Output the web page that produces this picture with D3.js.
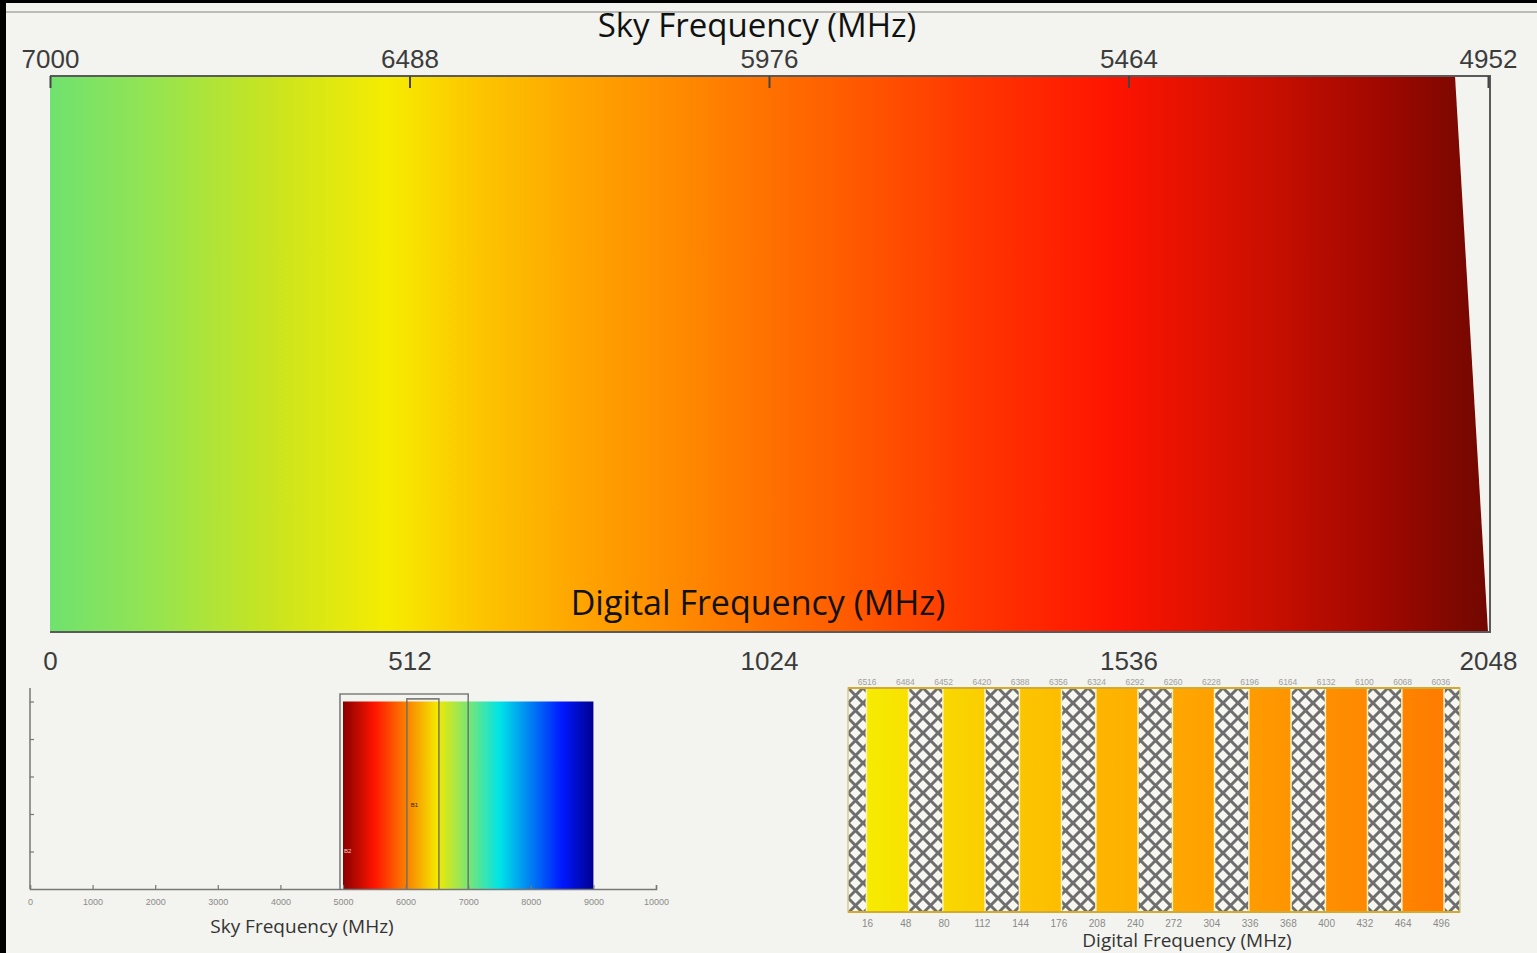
<!DOCTYPE html>
<html><head><meta charset="utf-8">
<script src="https://cdn.jsdelivr.net/npm/d3@7"></script>
<style>
html,body{margin:0;padding:0;background:#f3f4ef;overflow:hidden}
svg{display:block}
</style></head><body>
<svg id="chart" width="1537" height="953"></svg>
<script>
// Sky frequency ticks along the top of the main panel (MHz, descending)
const skyTicks = [7000, 6488, 5976, 5464, 4952];
// Digital frequency ticks along the bottom of the main panel (MHz)
const digitalTicks = [0, 512, 1024, 1536, 2048];
// Colour ramp along the digital band (digital MHz -> colour)
const rampPositions = [0, 142, 313, 483, 598, 755, 926, 1139, 1324, 1511, 1709, 1894, 2015, 2048];
const rampColors = ["#6fe26f", "#94e452", "#c8e420", "#f6ec00", "#fcc800", "#ffa400", "#ff8400",
                    "#ff5a00", "#ff3400", "#ff1400", "#d01000", "#a00800", "#7a0800", "#720800"];
// Roll-off edge of the passband at the top and bottom of the panel (digital MHz)
const rollOffTop = 2001;
const rollOffBottom = 2048;

// Overview of the full sky band
const overviewTicks = [0, 1000, 2000, 3000, 4000, 5000, 6000, 7000, 8000, 9000, 10000];
const overviewLevels = [1, 2, 3, 4, 5];
const overviewBand = [5000, 9000];
const overviewBandLevel = 5;
const overviewWindows = [[4952, 7000], [6020, 6532]];
const overviewWindowLevels = [5.2, 5.07];
const overviewWindowNames = ["B2", "B1"];
// jet ramp for the overview band (sky MHz -> colour)
const jetPositions = [5000, 5500, 6500, 7500, 8500, 9000];
const jetColors = ["#880000", "#ff1400", "#f4e800", "#00e4e8", "#0018ff", "#000090"];

// Zoomed sub-band panel
const subDigitalTicks = [16, 48, 80, 112, 144, 176, 208, 240, 272, 304, 336, 368, 400, 432, 464, 496];
const subSkyTicks = [6516, 6484, 6452, 6420, 6388, 6356, 6324, 6292, 6260, 6228, 6196, 6164, 6132, 6100, 6068, 6036];
const subChannels = [[16, 50], [80, 114], [144, 178], [208, 242], [272, 306], [336, 370], [400, 434], [464, 498]];
const subOffset = 468; // digital offset of the sub-band inside the main band

const svg = d3.select("#chart");
const defs = svg.append("defs");
const titleFont = "Open Sans, Noto Sans, sans-serif";
const tickFont = "Liberation Sans, Arial, sans-serif";

// ---------- frame decoration ----------
svg.append("rect").attr("x", 0).attr("y", 0).attr("width", 1537).attr("height", 3).attr("fill", "#000");
svg.append("rect").attr("x", 0).attr("y", 0).attr("width", 6).attr("height", 953).attr("fill", "#000");
svg.append("line").attr("x1", 6).attr("x2", 1537).attr("y1", 12).attr("y2", 12)
  .attr("stroke", "#a8a8a4").attr("stroke-width", 1.5);

// ---------- main panel ----------
const mainLeft = 50, mainRight = 1488, frameRight = 1490, mainTop = 76, mainBottom = 632;
const xDigital = d3.scaleLinear().domain([0, 2048]).range([mainLeft, mainRight]);
const xSky = d3.scaleLinear().domain([7000, 4952]).range([mainLeft, mainRight]);
const ramp = d3.scaleLinear().domain(rampPositions).range(rampColors).interpolate(d3.interpolateRgb);

const grad = defs.append("linearGradient").attr("id", "mainRamp")
  .attr("gradientUnits", "userSpaceOnUse")
  .attr("x1", xDigital(0)).attr("x2", xDigital(2048)).attr("y1", 0).attr("y2", 0);
grad.selectAll("stop").data(d3.range(0, 2049, 32)).join("stop")
  .attr("offset", d => d / 2048)
  .attr("stop-color", d => ramp(d));

const passband = [[0, "top"], [rollOffTop, "top"], [rollOffBottom, "bottom"], [0, "bottom"]];
svg.append("path")
  .attr("d", d3.line()(passband.map(([f, side]) => [xDigital(f), side === "top" ? mainTop : mainBottom])) + "Z")
  .attr("fill", "url(#mainRamp)");

// panel frame: top, right and bottom edges
svg.append("path")
  .attr("d", `M${mainLeft},${mainTop}H${frameRight}V${mainBottom}H${mainLeft}`)
  .attr("fill", "none").attr("stroke", "#5a5a5a").attr("stroke-width", 2);

// top axis (sky frequency)
const topAxis = d3.axisBottom(xSky).tickValues(skyTicks).tickSize(12).tickFormat(d3.format("d"));
const gTop = svg.append("g").attr("transform", `translate(0,${mainTop})`).call(topAxis);
gTop.select(".domain").remove();
gTop.selectAll(".tick line").attr("stroke", "#444").attr("stroke-width", 2);
gTop.selectAll(".tick text")
  .attr("y", -8).attr("dy", 0)
  .attr("font-family", tickFont).attr("font-size", 26).attr("fill", "#3c3c3c");

// bottom axis (digital frequency), labels only
const bottomAxis = d3.axisBottom(xDigital).tickValues(digitalTicks).tickSize(0).tickFormat(d3.format("d"));
const gBottom = svg.append("g").attr("transform", `translate(0,${mainBottom})`).call(bottomAxis);
gBottom.select(".domain").remove();
gBottom.selectAll(".tick text")
  .attr("y", 38).attr("dy", 0)
  .attr("font-family", tickFont).attr("font-size", 26).attr("fill", "#3c3c3c");

svg.append("text").attr("x", 757).attr("y", 37).attr("text-anchor", "middle")
  .attr("font-family", titleFont).attr("font-size", 33).attr("fill", "#111")
  .text("Sky Frequency (MHz)");
svg.append("text").attr("x", 758).attr("y", 615).attr("text-anchor", "middle")
  .attr("font-family", titleFont).attr("font-size", 34).attr("fill", "#111")
  .text("Digital Frequency (MHz)");

// ---------- overview panel ----------
const ovX = d3.scaleLinear().domain([0, 10000]).range([30, 656]);
const ovY = d3.scaleLinear().domain([0, 5.36]).range([889, 688]);
const jet = d3.scaleLinear().domain(jetPositions).range(jetColors).interpolate(d3.interpolateRgb);

const jetGrad = defs.append("linearGradient").attr("id", "jetRamp")
  .attr("gradientUnits", "userSpaceOnUse")
  .attr("x1", ovX(overviewBand[0])).attr("x2", ovX(overviewBand[1])).attr("y1", 0).attr("y2", 0);
jetGrad.selectAll("stop").data(d3.range(overviewBand[0], overviewBand[1] + 1, 100)).join("stop")
  .attr("offset", d => (d - overviewBand[0]) / (overviewBand[1] - overviewBand[0]))
  .attr("stop-color", d => jet(d));

svg.append("rect")
  .attr("x", ovX(overviewBand[0])).attr("y", ovY(overviewBandLevel))
  .attr("width", ovX(overviewBand[1]) - ovX(overviewBand[0]))
  .attr("height", ovY(0) - ovY(overviewBandLevel))
  .attr("fill", "url(#jetRamp)");

svg.selectAll(".ovWindow").data(overviewWindows).join("path").attr("class", "ovWindow")
  .attr("d", (d, i) => `M${ovX(d[0])},${ovY(0)}V${ovY(overviewWindowLevels[i])}H${ovX(d[1])}V${ovY(0)}`)
  .attr("fill", "none").attr("stroke", "#6a6a6a").attr("stroke-opacity", 0.85).attr("stroke-width", 1.6);

svg.selectAll(".ovName").data(overviewWindows).join("text").attr("class", "ovName")
  .attr("x", d => ovX(d[0]) + 4)
  .attr("y", (d, i) => i === 0 ? ovY(0.95) : ovY(2.2))
  .attr("font-family", tickFont).attr("font-size", 6)
  .attr("fill", (d, i) => i === 0 ? "#f3d0c0" : "#3a2000")
  .text((d, i) => overviewWindowNames[i]);

const ovXAxis = d3.axisTop(ovX).tickValues(overviewTicks).tickSize(4).tickFormat(d3.format("d"));
const gOvX = svg.append("g").attr("transform", `translate(0,${ovY(0)})`).call(ovXAxis);
gOvX.select(".domain").attr("stroke", "#777").attr("stroke-width", 1.5);
gOvX.selectAll(".tick line").attr("stroke", "#777").attr("stroke-width", 1.2);
gOvX.selectAll(".tick text").attr("y", 16).attr("dy", 0)
  .attr("font-family", tickFont).attr("font-size", 9).attr("fill", "#8a8a8a");

const ovYAxis = d3.axisRight(ovY).tickValues(overviewLevels).tickSize(4).tickFormat("");
const gOvY = svg.append("g").attr("transform", `translate(${ovX(0)},0)`).call(ovYAxis);
gOvY.select(".domain").attr("stroke", "#777").attr("stroke-width", 1.5)
  .attr("d", `M0,${ovY(5.36)}V${ovY(0)}`);
gOvY.selectAll(".tick line").attr("stroke", "#777").attr("stroke-width", 1.2);

svg.append("text").attr("x", 302).attr("y", 933).attr("text-anchor", "middle")
  .attr("font-family", titleFont).attr("font-size", 19).attr("fill", "#333")
  .text("Sky Frequency (MHz)");

// ---------- zoomed sub-band panel ----------
const subLeft = 848, subRight = 1460, subTop = 688, subBottom = 912;
const subX = d3.scaleLinear().domain([0, 512]).range([subLeft, subRight]);
const cell = 15;

const hatch = defs.append("pattern").attr("id", "crossHatch")
  .attr("patternUnits", "userSpaceOnUse").attr("width", cell).attr("height", cell)
  .attr("x", subLeft).attr("y", subTop);
hatch.append("rect").attr("width", cell).attr("height", cell).attr("fill", "#f7f7f2");
hatch.append("path")
  .attr("d", `M0,0L${cell},${cell}M${cell},0L0,${cell}M-2,${cell - 2}L2,${cell + 2}M${cell - 2},-2L${cell + 2},2`)
  .attr("stroke", "#6e6e6e").attr("stroke-width", 3);

svg.append("rect").attr("x", subLeft).attr("y", subTop)
  .attr("width", subRight - subLeft).attr("height", subBottom - subTop)
  .attr("fill", "url(#crossHatch)");

subChannels.forEach((c, i) => {
  const g = defs.append("linearGradient").attr("id", "chan" + i)
    .attr("gradientUnits", "userSpaceOnUse")
    .attr("x1", subX(c[0])).attr("x2", subX(c[1])).attr("y1", 0).attr("y2", 0);
  g.append("stop").attr("offset", 0).attr("stop-color", ramp(c[0] + subOffset));
  g.append("stop").attr("offset", 1).attr("stop-color", ramp(c[1] + subOffset));
});

svg.selectAll(".chanEdge").data(subChannels).join("rect").attr("class", "chanEdge")
  .attr("x", d => subX(d[0]) - 1.5).attr("y", subTop)
  .attr("width", d => subX(d[1]) - subX(d[0]) + 3).attr("height", subBottom - subTop)
  .attr("fill", "#fbf2b8");
svg.selectAll(".chan").data(subChannels).join("rect").attr("class", "chan")
  .attr("x", d => subX(d[0])).attr("y", subTop)
  .attr("width", d => subX(d[1]) - subX(d[0])).attr("height", subBottom - subTop)
  .attr("fill", (d, i) => `url(#chan${i})`);

svg.append("rect").attr("x", subLeft).attr("y", subTop)
  .attr("width", subRight - subLeft).attr("height", subBottom - subTop)
  .attr("fill", "none").attr("stroke", "#d8cc90").attr("stroke-width", 1.5);
svg.append("path").attr("d", `M${subLeft},${subTop}H${subRight}M${subLeft},${subBottom}H${subRight}`)
  .attr("stroke", "#d2aa30").attr("stroke-width", 2);

svg.selectAll(".subSky").data(subDigitalTicks).join("text").attr("class", "subSky")
  .attr("x", d => subX(d)).attr("y", subTop - 3).attr("text-anchor", "middle")
  .attr("font-family", tickFont).attr("font-size", 8.5).attr("fill", "#a0a0a0")
  .text((d, i) => subSkyTicks[i]);

const subAxis = d3.axisBottom(subX).tickValues(subDigitalTicks).tickSize(0).tickFormat(d3.format("d"));
const gSub = svg.append("g").attr("transform", `translate(0,${subBottom})`).call(subAxis);
gSub.select(".domain").remove();
gSub.selectAll(".tick text").attr("y", 15).attr("dy", 0)
  .attr("font-family", tickFont).attr("font-size", 10).attr("fill", "#8a8a8a");

svg.append("text").attr("x", 1187).attr("y", 947).attr("text-anchor", "middle")
  .attr("font-family", titleFont).attr("font-size", 19).attr("fill", "#333")
  .text("Digital Frequency (MHz)");
</script>
</body></html>
